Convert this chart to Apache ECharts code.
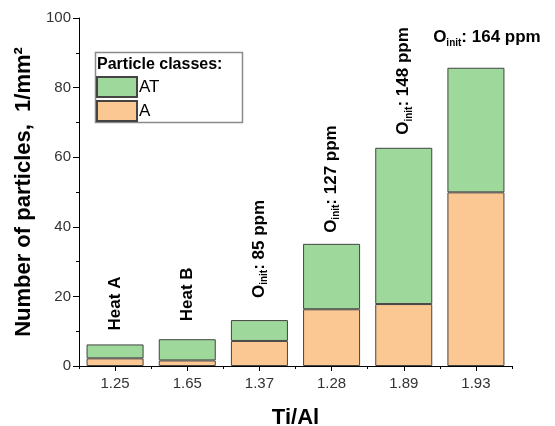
<!DOCTYPE html>
<html><head><meta charset="utf-8">
<script src="https://cdn.jsdelivr.net/npm/echarts@6/dist/echarts.min.js"></script>
<style>html,body{margin:0;padding:0;background:#fff}#c{width:555px;height:426px}</style>
</head><body><div id="c"></div>
<script>
const categories = ['1.25', '1.65', '1.37', '1.28', '1.89', '1.93'];
const seriesA = [2.2, 1.6, 7.2, 16.3, 17.8, 49.9];
const seriesAT = [4.0, 6.1, 6.0, 18.8, 44.9, 35.8];
const heatNames = ['Heat A', 'Heat B', null, null, null, null];
const oxygenPpm = [null, null, 85, 127, 148, 164];
const yTicks = [0, 20, 40, 60, 80, 100];

const FONT = '"Liberation Sans", Arial, sans-serif';
const labelDistance = [14, 18, 22, 11, 13, 0];

const rich = {
  o: {fontSize: 17, fontWeight: 'bold', fontFamily: FONT, color: '#000', lineHeight: 20},
  s: {fontSize: 10, fontWeight: 'bold', fontFamily: FONT, color: '#000', lineHeight: 8, verticalAlign: 'bottom'}
};

const atData = seriesAT.map((v, i) => {
  let text;
  if (heatNames[i]) text = '{o|' + heatNames[i] + '}';
  else text = '{o|O}{s|init}{o|: ' + oxygenPpm[i] + ' ppm}';
  const horizontal = i === categories.length - 1;
  const label = horizontal ? {
    show: true, position: 'top', distance: 20, offset: [11, 0],
    formatter: text, rich: rich
  } : {
    show: true, position: 'top', rotate: 90, align: 'left', verticalAlign: 'middle',
    distance: labelDistance[i], formatter: text, rich: rich
  };
  return {value: v, label: label};
});

const chart = echarts.init(document.getElementById('c'), null, {renderer: 'canvas'});
chart.setOption({
  animation: false,
  backgroundColor: '#fff',
  grid: {left: 79, right: 43, top: 18, bottom: 60, containLabel: false, outerBoundsMode: 'none'},
  legend: {
    data: ['AT', 'A'], orient: 'vertical', left: 96, top: 76,
    icon: 'rect',
    itemWidth: 40, itemHeight: 20, itemGap: 2, padding: 0,
    textStyle: {fontSize: 17, fontFamily: FONT, color: '#000', padding: [0, 0, 0, -3]},
    selectedMode: false
  },
  graphic: [
    {type: 'rect', left: 93, top: 50, shape: {width: 147, height: 70},
     style: {fill: 'none', stroke: '#8a8a8a', lineWidth: 1.5}, z: 1},
    {type: 'text', left: 97, top: 57,
     style: {text: 'Particle classes:', font: 'bold 16px ' + FONT, fill: '#000'}, z: 2}
  ],
  xAxis: [{
    type: 'category', data: categories, position: 'bottom',
    name: 'Ti/Al', nameLocation: 'middle', nameGap: 41,
    nameTextStyle: {fontSize: 22, fontWeight: 'bold', fontFamily: FONT, color: '#000'},
    axisLine: {onZero: false, lineStyle: {color: '#000', width: 1}},
    axisTick: {show: true, alignWithLabel: true, length: 5, lineStyle: {color: '#000'}},
    axisLabel: {fontSize: 15, fontFamily: FONT, color: '#333', margin: 10}
  }, {
    type: 'category', data: categories, position: 'bottom',
    axisLine: {show: false, onZero: false},
    axisTick: {show: true, alignWithLabel: false, length: 3, lineStyle: {color: '#000'}},
    axisLabel: {show: false}
  }],
  yAxis: {
    type: 'value', min: yTicks[0], max: yTicks[yTicks.length - 1], interval: 20,
    name: 'Number of particles,  1/mm²', nameLocation: 'middle', nameGap: 42,
    nameTextStyle: {fontSize: 22, fontWeight: 'bold', fontFamily: FONT, color: '#000'},
    axisLine: {show: true, lineStyle: {color: '#000', width: 1}},
    axisTick: {show: true, length: 6, lineStyle: {color: '#000'}},
    minorTick: {show: true, splitNumber: 2, length: 3, lineStyle: {color: '#000'}},
    splitLine: {show: false},
    axisLabel: {fontSize: 15, fontFamily: FONT, color: '#333', margin: 8}
  },
  series: [{
    name: 'A', type: 'bar', stack: 'total', xAxisIndex: 0, data: seriesA, barWidth: '79%',
    itemStyle: {color: '#fbc793', borderColor: '#444', borderWidth: 1}
  }, {
    name: 'AT', type: 'bar', stack: 'total', xAxisIndex: 0, data: atData, barWidth: '79%',
    itemStyle: {color: '#9ed89a', borderColor: '#444', borderWidth: 1}
  }]
});
</script></body></html>
